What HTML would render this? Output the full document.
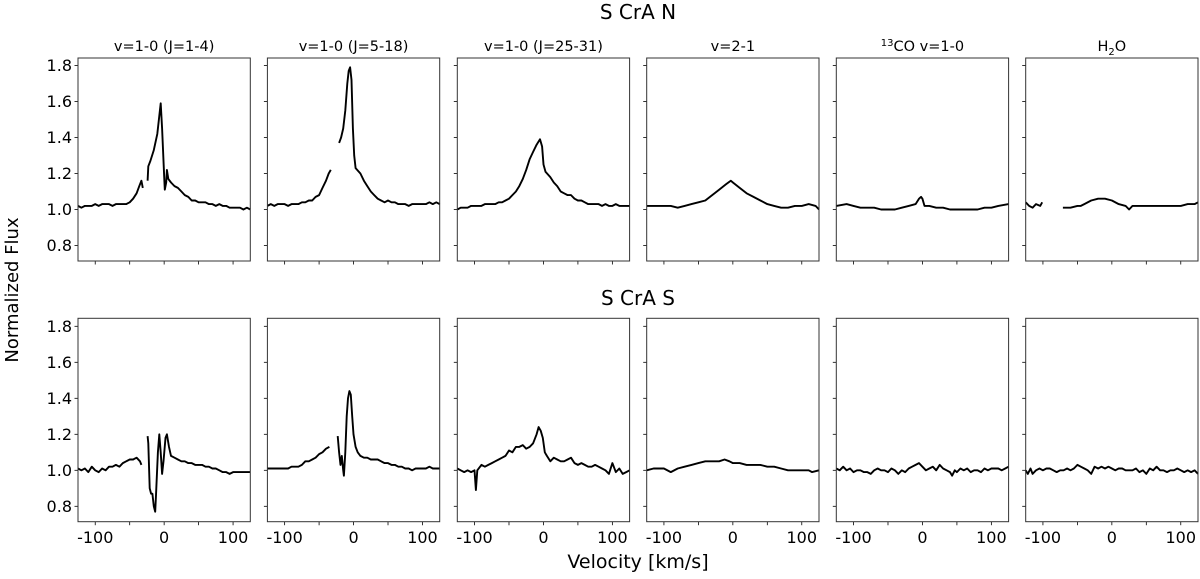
<!DOCTYPE html>
<html><head><meta charset="utf-8"><style>
html,body{margin:0;padding:0;background:#fff;}
svg text{font-family:"DejaVu Sans","Liberation Sans",sans-serif;fill:#000;}
</style></head><body>
<svg id="fig" width="1200" height="574" viewBox="0 0 1200 574" xmlns="http://www.w3.org/2000/svg"></svg>
<script>
const titles = ["v=1-0 (J=1-4)","v=1-0 (J=5-18)","v=1-0 (J=25-31)","v=2-1","13CO v=1-0","H2O"];
const rowTitles = ["S CrA N","S CrA S"];
const yTicks = [0.8,1.0,1.2,1.4,1.6,1.8];
const yTickLabels = ["0.8","1.0","1.2","1.4","1.6","1.8"];
const xTicks = [-100,-50,0,50,100];
const xTickLabels = ["-100","","0","","100"];

const v1=[-125,-120,-115,-110,-105,-100,-95,-90,-85,-80,-75,-70,-65,-60,-55,-50,-45,-40,-36,-33,-31,null,-24,-23,-20,-15,-10,-7,-5,-3,0,1,3,4,6,10,15,20,25,30,35,40,45,50,55,60,65,70,75,80,85,90,95,100,105,110,115,120,125];
const f1=[1.02,1.01,1.02,1.02,1.02,1.03,1.02,1.03,1.03,1.03,1.02,1.03,1.03,1.03,1.03,1.04,1.06,1.09,1.13,1.16,1.12,null,1.16,1.24,1.27,1.33,1.42,1.52,1.59,1.45,1.18,1.11,1.15,1.22,1.17,1.15,1.13,1.12,1.10,1.08,1.07,1.05,1.05,1.04,1.04,1.04,1.03,1.03,1.02,1.03,1.02,1.02,1.01,1.01,1.01,1.01,1.00,1.01,1.00];
const v2=[-125,-120,-115,-110,-105,-100,-95,-90,-85,-80,-75,-70,-65,-60,-55,-50,-45,-40,-36,-33,null,-21,-18,-15,-12,-9,-7,-5,-3,-1,1,3,10,15,20,25,30,35,40,45,50,55,60,65,70,75,80,85,90,95,100,105,110,115,120,125];
const f2=[1.02,1.03,1.02,1.03,1.03,1.03,1.02,1.03,1.03,1.03,1.04,1.04,1.05,1.05,1.07,1.08,1.12,1.16,1.20,1.22,null,1.37,1.40,1.45,1.55,1.70,1.77,1.79,1.72,1.45,1.30,1.23,1.20,1.16,1.13,1.10,1.08,1.06,1.05,1.04,1.05,1.04,1.04,1.03,1.03,1.03,1.02,1.03,1.03,1.03,1.03,1.03,1.04,1.03,1.04,1.03];
const v3=[-125,-120,-115,-110,-105,-100,-95,-90,-85,-80,-75,-70,-65,-60,-55,-50,-45,-40,-35,-30,-25,-20,-15,-10,-5,-2,0,3,10,15,20,25,30,35,40,45,50,55,60,65,70,75,80,85,90,95,100,105,110,115,120,125];
const f3=[1.00,1.01,1.01,1.01,1.02,1.02,1.02,1.02,1.03,1.03,1.03,1.03,1.04,1.04,1.05,1.06,1.08,1.10,1.13,1.17,1.22,1.28,1.32,1.36,1.39,1.35,1.25,1.21,1.18,1.15,1.13,1.10,1.09,1.08,1.08,1.06,1.05,1.05,1.04,1.03,1.03,1.03,1.03,1.02,1.03,1.02,1.02,1.03,1.02,1.02,1.02,1.02];
const v4=[-125,-115,-105,-100,-90,-80,-70,-60,-50,-40,-30,-20,-10,-3,0,10,20,30,40,50,60,70,80,90,100,110,120,125];
const f4=[1.02,1.02,1.02,1.02,1.02,1.01,1.02,1.03,1.04,1.05,1.08,1.11,1.14,1.16,1.15,1.12,1.09,1.07,1.05,1.03,1.02,1.01,1.01,1.02,1.02,1.03,1.02,1.00];
const v5=[-125,-110,-100,-90,-80,-70,-60,-50,-40,-30,-20,-10,-5,-2,0,3,10,20,30,40,50,60,70,80,90,100,110,125];
const f5=[1.02,1.03,1.02,1.01,1.01,1.01,1.00,1.00,1.00,1.01,1.02,1.03,1.06,1.07,1.06,1.02,1.02,1.01,1.01,1.00,1.00,1.00,1.00,1.00,1.01,1.01,1.02,1.03];
const v6=[-125,-120,-115,-110,-104,-101,null,-71,-60,-50,-45,-40,-30,-20,-10,0,10,20,25,30,40,50,60,70,80,90,100,110,120,125];
const f6=[1.04,1.02,1.01,1.03,1.02,1.04,null,1.01,1.01,1.02,1.02,1.03,1.05,1.06,1.06,1.05,1.03,1.02,1.00,1.02,1.02,1.02,1.02,1.02,1.02,1.02,1.02,1.03,1.03,1.04];
const v7=[-125,-120,-115,-110,-105,-100,-95,-90,-85,-80,-75,-70,-65,-60,-55,-50,-45,-40,-35,-33,null,-24,-23,-21,-19,-17,-15,-13,-12,-9,-7,-5,-3,-1,2,4,7,10,15,20,25,30,35,40,45,50,55,60,65,70,75,80,85,90,95,100,105,110,115,120,125];
const f7=[1.01,1.00,1.01,0.99,1.02,1.00,0.99,1.01,1.00,1.02,1.02,1.03,1.02,1.04,1.05,1.06,1.06,1.07,1.05,1.03,null,1.19,1.15,0.90,0.87,0.87,0.80,0.77,0.85,1.10,1.20,1.10,0.98,1.05,1.18,1.20,1.13,1.08,1.07,1.06,1.05,1.05,1.04,1.04,1.03,1.03,1.03,1.02,1.02,1.01,1.01,1.00,0.99,0.99,0.98,0.99,0.99,0.99,0.99,0.99,0.99];
const v8=[-125,-120,-115,-110,-105,-100,-95,-90,-85,-80,-75,-70,-65,-60,-55,-50,-45,-40,-35,null,-23,-21,-19,-17,-15,-14,-12,-10,-8,-6,-4,-2,0,3,6,10,15,20,25,30,35,40,45,50,55,60,65,70,75,80,85,90,95,100,105,110,115,120,125];
const f8=[1.01,1.01,1.01,1.01,1.01,1.01,1.01,1.02,1.02,1.02,1.03,1.05,1.05,1.06,1.07,1.09,1.10,1.12,1.13,null,1.19,1.10,1.03,1.08,1.00,0.97,1.10,1.30,1.40,1.44,1.42,1.30,1.20,1.13,1.10,1.08,1.07,1.07,1.06,1.06,1.06,1.05,1.04,1.04,1.03,1.03,1.02,1.02,1.01,1.01,1.00,1.01,1.01,1.01,1.01,1.02,1.01,1.01,1.01];
const v9=[-125,-120,-115,-110,-105,-100,-98,-96,-90,-85,-80,-75,-70,-65,-60,-55,-50,-45,-40,-35,-30,-25,-20,-15,-10,-7,-4,-1,2,5,10,15,20,25,30,35,40,45,50,55,60,65,70,75,80,85,90,95,100,105,110,115,120,125];
const f9=[1.01,1.00,0.99,1.00,0.99,1.00,0.89,1.00,1.03,1.02,1.03,1.04,1.05,1.06,1.07,1.08,1.11,1.10,1.13,1.13,1.14,1.12,1.13,1.15,1.20,1.24,1.22,1.18,1.10,1.08,1.05,1.07,1.06,1.05,1.05,1.06,1.07,1.04,1.03,1.04,1.03,1.02,1.02,1.03,1.02,1.01,1.00,0.98,1.04,0.99,1.01,0.98,0.99,1.00];
const v10=[-125,-115,-110,-100,-90,-80,-70,-60,-50,-40,-30,-20,-12,-5,0,10,20,30,40,50,60,70,80,90,100,110,115,125];
const f10=[1.00,1.01,1.01,1.01,0.99,1.01,1.02,1.03,1.04,1.05,1.05,1.05,1.06,1.05,1.04,1.04,1.03,1.03,1.03,1.02,1.02,1.01,1.00,1.00,1.00,1.00,0.99,1.00];
const v11=[-125,-120,-115,-110,-105,-100,-95,-90,-85,-80,-75,-70,-65,-60,-55,-50,-45,-40,-35,-30,-25,-20,-15,-10,-5,0,5,10,15,20,25,30,35,40,43,47,50,55,60,65,70,75,80,85,90,95,100,110,115,120,125];
const f11=[1.01,1.00,1.02,1.00,1.01,0.99,1.00,1.00,0.99,0.99,0.98,1.00,1.01,1.00,1.00,0.99,1.01,1.00,0.98,1.00,0.99,1.01,1.02,1.03,1.04,1.02,1.00,1.01,1.02,1.00,1.03,1.01,1.00,0.99,0.97,1.00,0.99,1.01,1.00,1.01,0.99,1.00,1.00,0.99,1.01,1.00,1.01,1.01,1.00,1.01,1.02];
const v12=[-125,-122,-118,-115,-110,-105,-100,-95,-90,-85,-80,-75,-70,-65,-60,-55,-50,-45,-40,-35,-30,-25,-20,-15,-10,-5,0,5,10,15,20,25,30,35,40,45,50,55,60,65,70,75,80,85,90,95,100,105,110,115,120,125];
const f12=[1.00,0.98,1.01,0.98,1.00,1.01,1.00,1.01,1.01,1.00,0.99,1.00,1.00,1.01,1.00,1.01,1.03,1.02,1.01,1.00,0.98,1.02,1.01,1.02,1.01,1.02,1.01,1.00,1.01,1.01,1.00,1.00,1.00,1.01,0.99,1.00,0.98,1.01,1.00,1.02,1.00,1.00,0.99,1.00,1.00,1.01,1.00,0.99,1.00,0.99,1.00,0.98];

const seriesV=[v1,v2,v3,v4,v5,v6,v7,v8,v9,v10,v11,v12];
const seriesF=[f1,f2,f3,f4,f5,f6,f7,f8,f9,f10,f11,f12];

const NS="http://www.w3.org/2000/svg";
const svg=document.getElementById('fig');
function mk(tag,attrs,parent){const e=document.createElementNS(NS,tag);for(const k in attrs)e.setAttribute(k,attrs[k]);(parent||svg).appendChild(e);return e;}
const lefts=[78,267.4,457.3,646.7,836.3,1025.7];
const W=172.3;
const rows=[{top:58,bot:261,y10:209.5},{top:318.3,bot:521.7,y10:470.3}];
const PXU=180;
const xs=(c,v)=>lefts[c]+(v+125)/250*W;
const ys=(r,f)=>rows[r].y10-(f-1.0)*PXU;

rowTitles.forEach((t,r)=>{
  const e=mk('text',{x:638,y:r===0?19:305,'font-size':20,'text-anchor':'middle'});
  
  
  e.textContent=t;
});
const yl=mk('text',{x:0,y:0,'font-size':18,'text-anchor':'middle',transform:'translate(18,290) rotate(-90)'});


yl.textContent='Normalized Flux';
const xl=mk('text',{x:638,y:568,'font-size':19,'text-anchor':'middle'});


xl.textContent='Velocity [km/s]';

for(let r=0;r<2;r++){
  for(let c=0;c<6;c++){
    const g=mk('g',{});
    
    
    const L=lefts[c],T=rows[r].top,B=rows[r].bot;
    if(r===0){
      const tt=mk('text',{x:L+W/2,y:51,'font-size':14.5,'text-anchor':'middle'},g);
      
      
      if(c===4){tt.innerHTML='<tspan font-size="10" dy="-5">13</tspan><tspan dy="5">CO v=1-0</tspan>';}
      else if(c===5){tt.innerHTML='H<tspan font-size="10" dy="4">2</tspan><tspan dy="-4">O</tspan>';}
      else tt.textContent=titles[c];
    }
    yTicks.forEach((t,i)=>{
      const y=ys(r,t);
      mk('line',{x1:L-3.5,x2:L,y1:y,y2:y,stroke:'#000','stroke-width':0.8},g);
      if(c===0){
        const lb=mk('text',{x:L-6,y:y+5.5,'font-size':16,'text-anchor':'end'},g);
        
        
        lb.textContent=yTickLabels[i];
      }
    });
    xTicks.forEach((t,i)=>{
      const x=xs(c,t);
      mk('line',{x1:x,x2:x,y1:B,y2:B+3.5,stroke:'#000','stroke-width':0.8},g);
      if(r===1&&xTickLabels[i]){
        const lb=mk('text',{x:x,y:543,'font-size':16,'text-anchor':'middle'},g);
        
        
        lb.textContent=xTickLabels[i];
      }
    });
    const V=seriesV[r*6+c],F=seriesF[r*6+c];
    let d='',pen=false;
    for(let i=0;i<V.length;i++){
      if(V[i]===null||F[i]===null){pen=false;continue;}
      d+=(pen?'L':'M')+xs(c,V[i]).toFixed(1)+','+ys(r,F[i]).toFixed(1);
      pen=true;
    }
    const p=mk('path',{d:d,fill:'none',stroke:'#000','stroke-width':1.9,'stroke-linejoin':'round'},g);
    
    
    const fr=mk('rect',{x:L,y:T,width:W,height:B-T,fill:'none',stroke:'#333','stroke-width':1},g);
    
    
  }
}
</script>
</body></html>
